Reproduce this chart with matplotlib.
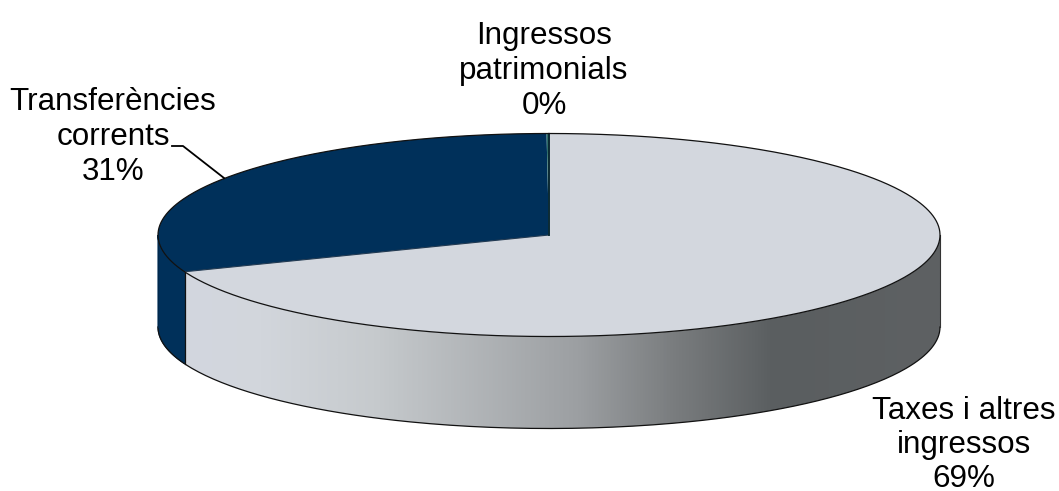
import numpy as np
import matplotlib
matplotlib.use("Agg")
import matplotlib.pyplot as plt
from matplotlib.colors import LinearSegmentedColormap
from matplotlib.patches import Polygon

categories = ["Taxes i altres\ningressos", "Transferències\ncorrents", "Ingressos\npatrimonials"]
values = [69.1, 30.8, 0.1]
shown_pct = ["69%", "31%", "0%"]
colors = ["#d3d7de", "#00305a", "#2f6f6a"]

W, H = 1059, 491
CX, CY, RX, RY, DEPTH = 549, 235, 391, 101.5, 92
fig = plt.figure(figsize=(W / 100, H / 100), dpi=100)
ax = fig.add_axes([0, 0, 1, 1])
ax.set_xlim(0, W)
ax.set_ylim(H, 0)
ax.axis("off")

def arc(t0, t1, dy=0, n=240):
    t = np.radians(np.linspace(t0, t1, n))
    return np.column_stack([CX + RX * np.sin(t), CY + dy - RY * np.cos(t)])

bounds = np.concatenate([[0], np.cumsum(values)]) / sum(values) * 360
edge = "#111111"

# side walls: only the front half (90..270 deg clockwise from 12 o'clock) is visible
ramp = LinearSegmentedColormap.from_list(
    "side", [(0, "#d3d7df"), (0.1, "#d2d6dc"), (0.25, "#c6cacd"), (0.52, "#9c9fa2"),
             (0.65, "#797c7e"), (0.78, "#5a5e60"), (1, "#5e6163")])
t_split = bounds[1]
side_pts = np.vstack([arc(90, t_split), arc(t_split, 90, DEPTH)])
side = Polygon(side_pts, closed=True, fc="none", ec="none", transform=ax.transData)
ax.add_patch(side)
xl = side_pts[:, 0].min()
xr = side_pts[:, 0].max()
im = ax.imshow(np.linspace(0, 1, 512)[None, :], cmap=ramp, aspect="auto",
               extent=[xl, xr, CY + RY + DEPTH + 2, CY - 5], zorder=1, interpolation="bilinear")
im.set_clip_path(side)
ax.add_patch(Polygon(np.vstack([arc(t_split, 270), arc(270, t_split, DEPTH)]), closed=True,
                     fc=colors[1], ec=colors[1], lw=0.8, zorder=1))
ax.set_xlim(0, W)
ax.set_ylim(H, 0)

# outlines of the walls
ax.plot(*arc(90, 270, DEPTH).T, color=edge, lw=0.9, zorder=2)
ax.plot([CX + RX, CX + RX], [CY, CY + DEPTH], color="#333333", lw=0.8, zorder=2)
ax.plot([CX - RX, CX - RX], [CY, CY + DEPTH], color="#00284a", lw=0.8, zorder=2)
px, py = arc(t_split, t_split, 0, 1)[0]
ax.plot([px, px], [py, py + DEPTH], color=edge, lw=0.9, zorder=2)

# top face slices
for i in [0, 1, 2]:
    pts = np.vstack([[CX, CY], arc(bounds[i], bounds[i + 1])])
    ax.add_patch(Polygon(pts, closed=True, fc=colors[i], ec="none", zorder=3))
    ax.plot([CX, px] if i == 0 else [CX, CX], [CY, py] if i == 0 else [CY, CY - RY],
            color="#223a52" if i == 0 else "#0b2a33", lw=0.8 if i == 0 else 1.2, zorder=4)
ax.plot(*arc(0, 360, n=720).T, color=edge, lw=0.9, zorder=4)

# leader line
ax.plot([172, 183, 224], [146, 146, 178], color="black", lw=1.3, zorder=5)

font = dict(family="Liberation Sans", fontsize=22.6, color="black", ha="center", va="center")
for (x, y), c, p, ls in zip([(964, 445), (113, 137), (544, 71)], categories, shown_pct,
                            [1.18, 1.22, 1.22]):
    ax.text(x, y, c + "\n" + p, linespacing=ls, **font)

fig.savefig("out.png", dpi=100, facecolor="white")
